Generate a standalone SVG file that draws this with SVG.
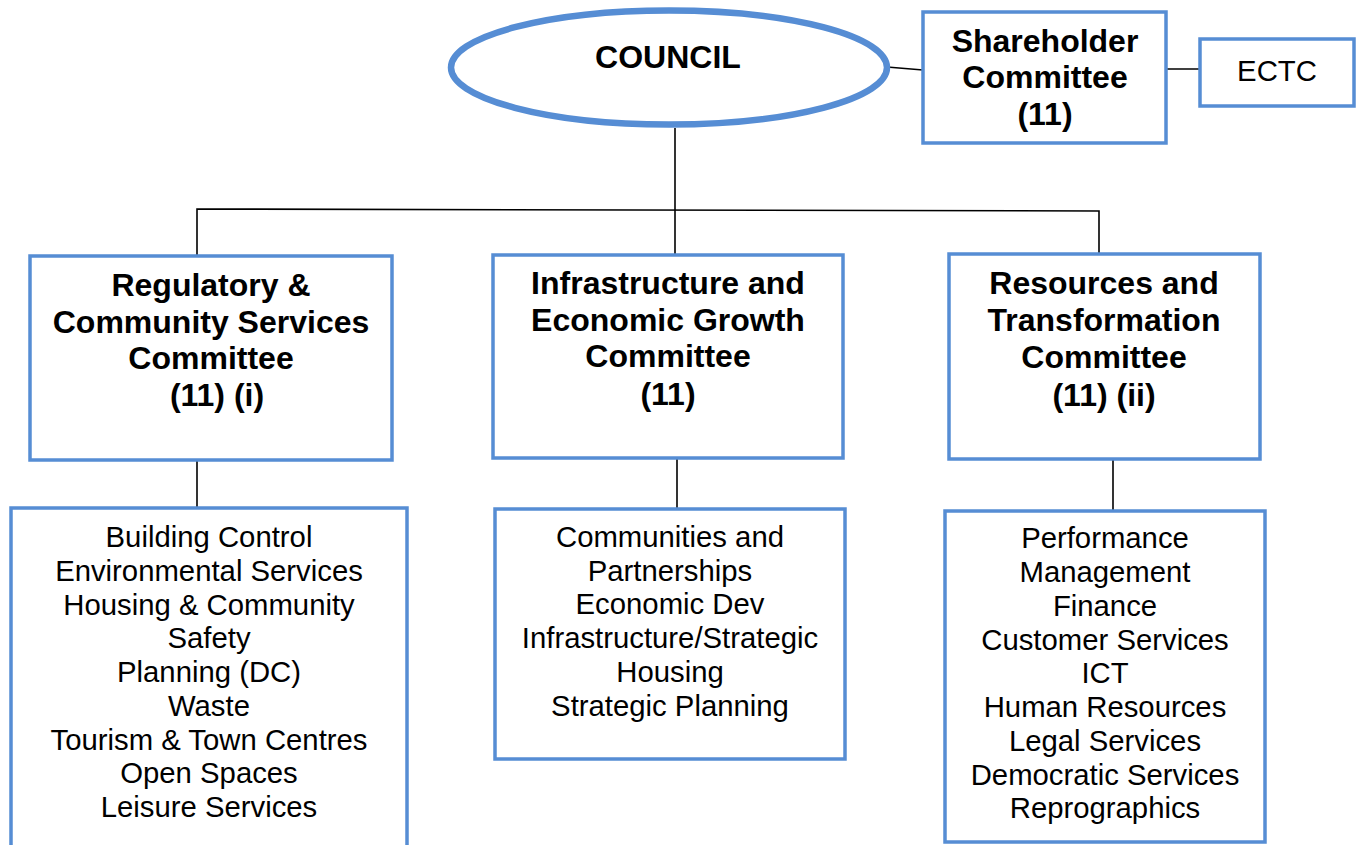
<svg xmlns="http://www.w3.org/2000/svg" width="1359" height="845" viewBox="0 0 1359 845">
<style>
.box{fill:#fff;stroke:#568dd4;stroke-width:3.5}
.ell{fill:#fff;stroke:#568dd4;stroke-width:6.5}
.conn{stroke:#000;stroke-width:1.6;fill:none}
.b{font-family:"Liberation Sans",Arial,sans-serif;font-weight:bold;font-size:32px;fill:#000;text-anchor:middle}
.r{font-family:"Liberation Sans",Arial,sans-serif;font-size:29.3px;fill:#000;text-anchor:middle}
</style>
<rect width="1359" height="845" fill="#fff"/>
<g id="connectors">
<line class="conn" x1="887" y1="67" x2="923" y2="70"/>
<line class="conn" x1="1166" y1="69" x2="1200" y2="69"/>
<line class="conn" x1="675" y1="128" x2="675" y2="255"/>
<polyline class="conn" points="197,256 197,209 1099,211 1099,254"/>
<line class="conn" x1="197" y1="460" x2="197" y2="509"/>
<line class="conn" x1="677" y1="458" x2="677" y2="509"/>
<line class="conn" x1="1113" y1="459" x2="1113" y2="511"/>
</g>
<g id="council">
<ellipse class="ell" cx="669" cy="67.5" rx="218" ry="57"/>
<text class="b" x="668" y="68">COUNCIL</text>
</g>
<g id="shareholder">
<rect class="box" x="923" y="12" width="243" height="131"/>
<text class="b" x="1045" y="52">Shareholder</text>
<text class="b" x="1045" y="88">Committee</text>
<text class="b" x="1045" y="125">(11)</text>
</g>
<g id="ectc">
<rect class="box" x="1200" y="39" width="154" height="67"/>
<text class="r" x="1277" y="81">ECTC</text>
</g>
<g id="regulatory">
<rect class="box" x="30" y="256" width="362" height="204"/>
<text class="b" x="211" y="296">Regulatory &amp;</text>
<text class="b" x="211" y="333">Community Services</text>
<text class="b" x="211" y="369">Committee</text>
<text class="b" x="217" y="406">(11) (i)</text>
</g>
<g id="infrastructure">
<rect class="box" x="493" y="255" width="350" height="203"/>
<text class="b" x="668" y="294">Infrastructure and</text>
<text class="b" x="668" y="331">Economic Growth</text>
<text class="b" x="668" y="367">Committee</text>
<text class="b" x="668" y="405">(11)</text>
</g>
<g id="resources">
<rect class="box" x="949" y="254" width="311" height="205"/>
<text class="b" x="1104" y="294">Resources and</text>
<text class="b" x="1104" y="331">Transformation</text>
<text class="b" x="1104" y="368">Committee</text>
<text class="b" x="1104" y="406">(11) (ii)</text>
</g>
<g id="regulatory-services">
<rect class="box" x="11" y="508" width="396" height="345"/>
<text class="r" x="209" y="547">Building Control</text>
<text class="r" x="209" y="581">Environmental Services</text>
<text class="r" x="209" y="615">Housing &amp; Community</text>
<text class="r" x="209" y="648">Safety</text>
<text class="r" x="209" y="682">Planning (DC)</text>
<text class="r" x="209" y="716">Waste</text>
<text class="r" x="209" y="750">Tourism &amp; Town Centres</text>
<text class="r" x="209" y="783">Open Spaces</text>
<text class="r" x="209" y="817">Leisure Services</text>
</g>
<g id="infrastructure-services">
<rect class="box" x="495" y="509" width="350" height="250"/>
<text class="r" x="670" y="547">Communities and</text>
<text class="r" x="670" y="581">Partnerships</text>
<text class="r" x="670" y="614">Economic Dev</text>
<text class="r" x="670" y="648">Infrastructure/Strategic</text>
<text class="r" x="670" y="682">Housing</text>
<text class="r" x="670" y="716">Strategic Planning</text>
</g>
<g id="resources-services">
<rect class="box" x="945" y="511" width="320" height="331"/>
<text class="r" x="1105" y="548">Performance</text>
<text class="r" x="1105" y="582">Management</text>
<text class="r" x="1105" y="616">Finance</text>
<text class="r" x="1105" y="650">Customer Services</text>
<text class="r" x="1105" y="683">ICT</text>
<text class="r" x="1105" y="717">Human Resources</text>
<text class="r" x="1105" y="751">Legal Services</text>
<text class="r" x="1105" y="785">Democratic Services</text>
<text class="r" x="1105" y="818">Reprographics</text>
</g>
</svg>
